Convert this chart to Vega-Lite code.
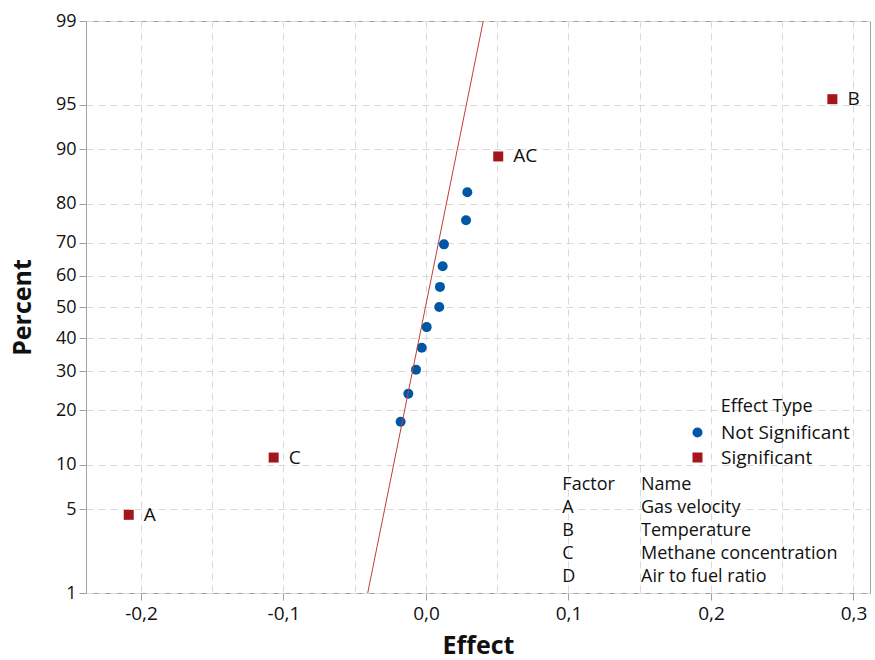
{
  "$schema": "https://vega.github.io/schema/vega-lite/v6.json",
  "width": 784,
  "height": 572,
  "autosize": "none",
  "padding": {"left": 86, "top": 21, "right": 5, "bottom": 67},
  "background": "white",
  "config": {
    "font": "Open Sans",
    "view": {"stroke": "#a0a0a0", "strokeWidth": 1},
    "axis": {
      "domain": false,
      "gridColor": "#d9d9d9",
      "gridDash": [7, 5],
      "gridWidth": 1,
      "tickColor": "#a0a0a0",
      "tickSize": 7,
      "labelFont": "Open Sans",
      "labelFontSize": 18,
      "labelColor": "#111111",
      "titleFont": "Open Sans",
      "titleFontSize": 25,
      "titleFontWeight": "bold",
      "titleColor": "#111111"
    }
  },
  "datasets": {
    "effects": [
      {"term": "A", "effect": -0.2086, "percent": 4.55, "score": -1.6904, "type": "Significant"},
      {"term": "C", "effect": -0.1069, "percent": 11.04, "score": -1.2245, "type": "Significant"},
      {"term": "", "effect": -0.0178, "percent": 17.53, "score": -0.9333, "type": "Not Significant"},
      {"term": "", "effect": -0.0124, "percent": 24.03, "score": -0.7055, "type": "Not Significant"},
      {"term": "", "effect": -0.0070, "percent": 30.52, "score": -0.5095, "type": "Not Significant"},
      {"term": "", "effect": -0.0030, "percent": 37.01, "score": -0.3315, "type": "Not Significant"},
      {"term": "", "effect": 0.0005, "percent": 43.51, "score": -0.1635, "type": "Not Significant"},
      {"term": "", "effect": 0.0093, "percent": 50.0, "score": 0.0, "type": "Not Significant"},
      {"term": "", "effect": 0.0098, "percent": 56.49, "score": 0.1635, "type": "Not Significant"},
      {"term": "", "effect": 0.0117, "percent": 62.99, "score": 0.3315, "type": "Not Significant"},
      {"term": "", "effect": 0.0126, "percent": 69.48, "score": 0.5095, "type": "Not Significant"},
      {"term": "", "effect": 0.0281, "percent": 75.97, "score": 0.7055, "type": "Not Significant"},
      {"term": "", "effect": 0.0290, "percent": 82.47, "score": 0.9333, "type": "Not Significant"},
      {"term": "AC", "effect": 0.0507, "percent": 88.96, "score": 1.2245, "type": "Significant"},
      {"term": "B", "effect": 0.2852, "percent": 95.45, "score": 1.6904, "type": "Significant"}
    ],
    "fit": [
      {"effect": -0.0409, "percent": 1, "score": -2.3263},
      {"effect": 0.0402, "percent": 99, "score": 2.3263}
    ],
    "notes": [
      {"effect": 0.2068, "score": -0.811, "text": "Effect Type"},
      {"effect": 0.0957, "score": -1.448, "text": "Factor"},
      {"effect": 0.1509, "score": -1.448, "text": "Name"},
      {"effect": 0.0957, "score": -1.635, "text": "A"},
      {"effect": 0.1509, "score": -1.635, "text": "Gas velocity"},
      {"effect": 0.0957, "score": -1.822, "text": "B"},
      {"effect": 0.1509, "score": -1.822, "text": "Temperature"},
      {"effect": 0.0957, "score": -2.009, "text": "C"},
      {"effect": 0.1509, "score": -2.009, "text": "Methane concentration"},
      {"effect": 0.0957, "score": -2.196, "text": "D"},
      {"effect": 0.1509, "score": -2.196, "text": "Air to fuel ratio"}
    ]
  },
  "layer": [
    {
      "data": {"name": "effects"},
      "mark": {"type": "point", "filled": true, "opacity": 1, "size": 100},
      "encoding": {
        "x": {
          "field": "effect",
          "type": "quantitative",
          "title": "Effect",
          "scale": {"domain": [-0.2386, 0.3116], "nice": false, "zero": false},
          "axis": {
            "values": [-0.2, -0.15, -0.1, -0.05, 0, 0.05, 0.1, 0.15, 0.2, 0.25, 0.3],
            "labelExpr": "abs(datum.value*10 - round(datum.value*10)) < 0.001 ? ((datum.value < -0.001 ? '-' : '') + replace(format(abs(datum.value), '.1f'), '.', ',')) : ''",
            "tickOpacity": {"condition": {"test": "abs(datum.value*10 - round(datum.value*10)) < 0.001", "value": 1}, "value": 0},
            "labelFontSize": 19,
            "labelPadding": 4,
            "titlePadding": 10
          }
        },
        "y": {
          "field": "score",
          "type": "quantitative",
          "title": "Percent",
          "scale": {"domain": [-2.3263, 2.3263], "nice": false, "zero": false},
          "axis": {
            "values": [-2.3263, -1.6449, -1.2816, -0.8416, -0.5244, -0.2533, 0, 0.2533, 0.5244, 0.8416, 1.2816, 1.6449, 2.3263],
            "labelExpr": "format(round(cumulativeNormal(datum.value)*100), 'd')",
            "labelPadding": 3,
            "titlePadding": 20
          }
        },
        "color": {
          "field": "type",
          "type": "nominal",
          "scale": {"domain": ["Not Significant", "Significant"], "range": ["#0057a6", "#a3161b"]},
          "legend": {
            "title": null,
            "orient": "none",
            "legendX": 602,
            "legendY": 402,
            "padding": 0,
            "labelFont": "Open Sans",
            "labelFontSize": 19,
            "labelColor": "#111111",
            "labelOffset": 14,
            "rowPadding": 5,
            "symbolSize": 100,
            "symbolStrokeWidth": 0
          }
        },
        "shape": {
          "field": "type",
          "type": "nominal",
          "scale": {"domain": ["Not Significant", "Significant"], "range": ["circle", "square"]}
        }
      }
    },
    {
      "data": {"name": "fit"},
      "mark": {"type": "line", "color": "#c23b3b", "strokeWidth": 1, "clip": true},
      "encoding": {
        "x": {"field": "effect", "type": "quantitative"},
        "y": {"field": "score", "type": "quantitative"}
      }
    },
    {
      "data": {"name": "effects"},
      "transform": [{"filter": "datum.term != ''"}],
      "mark": {"type": "text", "align": "left", "baseline": "middle", "dx": 15, "fontSize": 19, "color": "#111111", "font": "Open Sans"},
      "encoding": {
        "x": {"field": "effect", "type": "quantitative"},
        "y": {"field": "score", "type": "quantitative"},
        "text": {"field": "term"}
      }
    },
    {
      "data": {"name": "notes"},
      "mark": {"type": "text", "align": "left", "baseline": "middle", "fontSize": 18, "color": "#111111", "font": "Open Sans"},
      "encoding": {
        "x": {"field": "effect", "type": "quantitative"},
        "y": {"field": "score", "type": "quantitative"},
        "text": {"field": "text"}
      }
    }
  ]
}
